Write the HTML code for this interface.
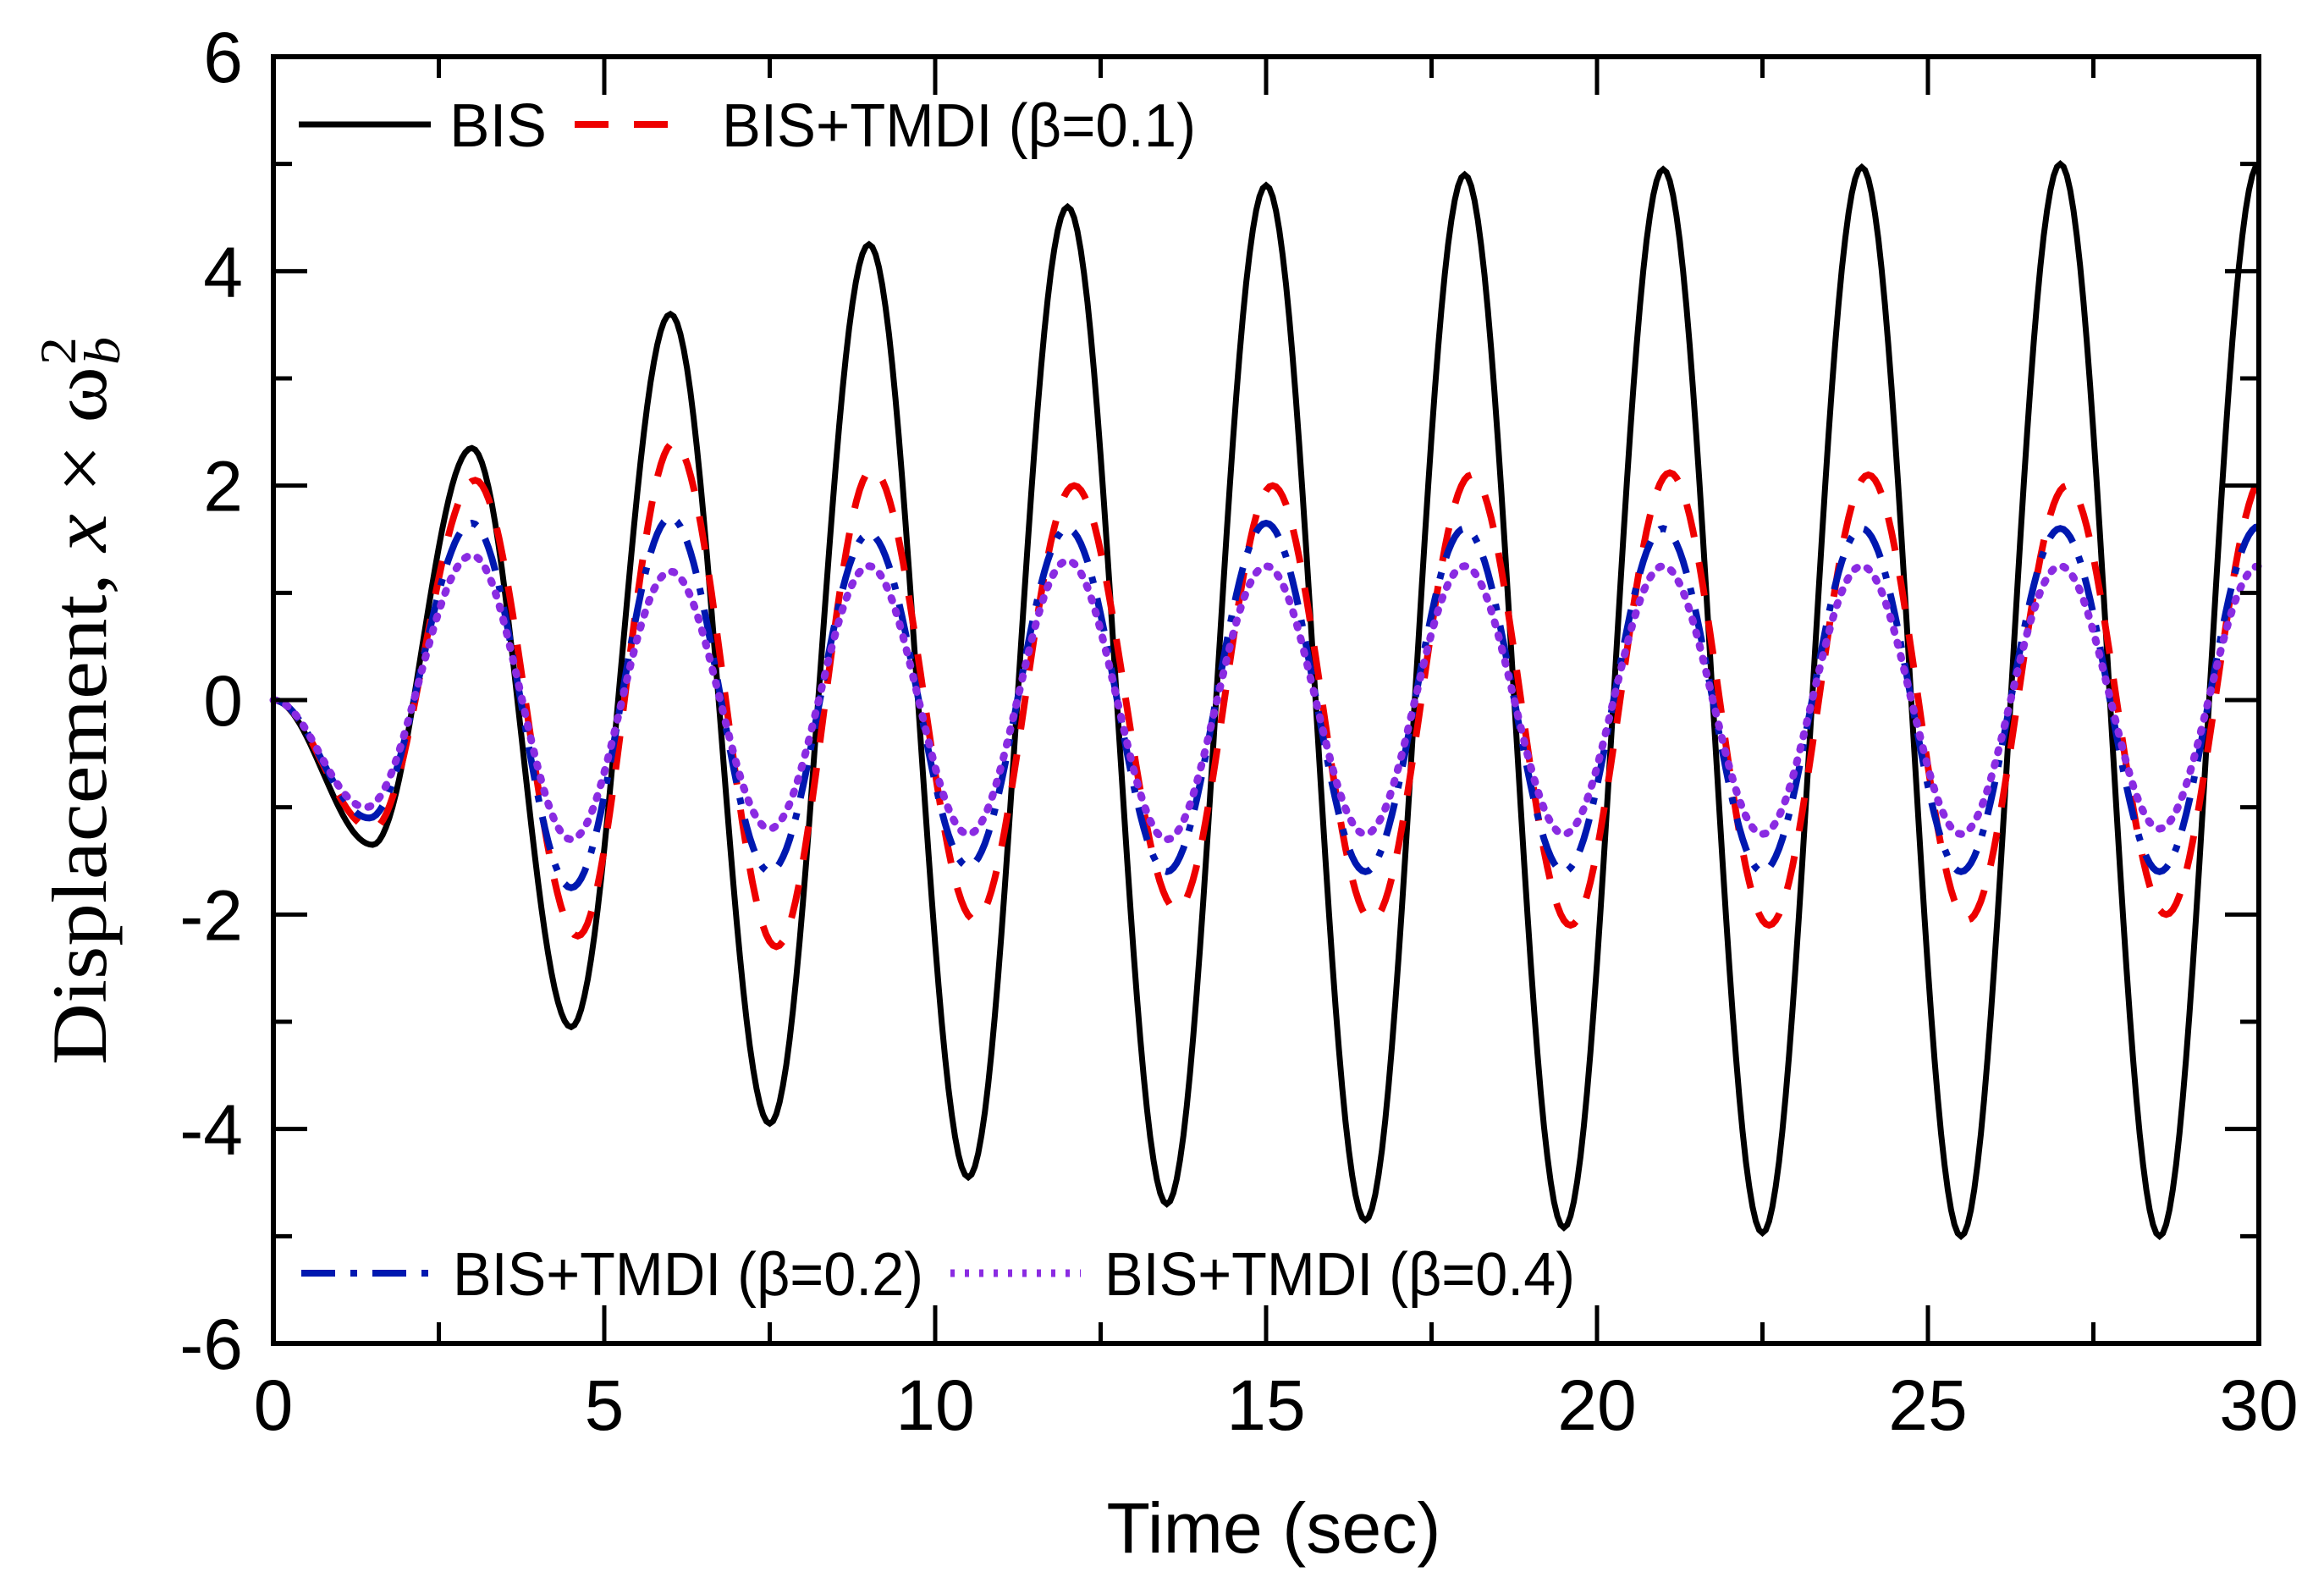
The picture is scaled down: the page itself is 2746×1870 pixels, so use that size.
<!DOCTYPE html>
<html><head><meta charset="utf-8"><style>
html,body{margin:0;padding:0;background:#fff;}
svg{display:block;}
.tk{font-family:"Liberation Sans",sans-serif;font-size:84px;fill:#000;}
.lg{font-family:"Liberation Sans",sans-serif;font-size:72px;fill:#000;}
</style></head><body>
<svg id="chart" width="2746" height="1870" viewBox="0 0 2746 1870" xmlns="http://www.w3.org/2000/svg">
<rect x="0" y="0" width="2746" height="1870" fill="#fff"/>
<g id="series"></g>
<g id="axes"></g>
<text class="tk" x="1505" y="1834" text-anchor="middle" textLength="395" lengthAdjust="spacingAndGlyphs">Time (sec)</text>
<text transform="translate(125,828) rotate(-90)" text-anchor="middle" font-family="Liberation Serif, serif" font-size="92" textLength="860" lengthAdjust="spacingAndGlyphs">Displacement, <tspan font-style="italic">x</tspan> × ω<tspan font-size="60" dy="-36" dx="2">2</tspan><tspan font-size="60" font-style="italic" dy="52" dx="-30">b</tspan></text>
<g>
<line x1="353" y1="147" x2="509" y2="147" stroke="#000" stroke-width="7"/>
<text class="lg" x="531" y="173" textLength="115" lengthAdjust="spacingAndGlyphs">BIS</text>
<line x1="679" y1="147" x2="800" y2="147" stroke="#e00" stroke-width="8" stroke-dasharray="40,30"/>
<text class="lg" x="853" y="173" textLength="560" lengthAdjust="spacingAndGlyphs">BIS+TMDI (β=0.1)</text>
</g>
<g>
<line x1="356" y1="1504" x2="509" y2="1504" stroke="#0018b0" stroke-width="8" stroke-dasharray="40,18,8,18"/>
<text class="lg" x="535" y="1530" textLength="556" lengthAdjust="spacingAndGlyphs">BIS+TMDI (β=0.2)</text>
<line x1="1123" y1="1504" x2="1277" y2="1504" stroke="#8a2be2" stroke-width="9" stroke-dasharray="5,12"/>
<text class="lg" x="1305" y="1530" textLength="556" lengthAdjust="spacingAndGlyphs">BIS+TMDI (β=0.4)</text>
</g>
</svg>
<script>
// extrema data (time, value) per series
const bisT = [0,1.5,3,4.5,6,7.5,9,10.5,12,13.5,15,16.5,18,19.5,21,22.5,24,25.5,27,28.5,30];
const bisV = [0,-1.35,2.35,-3.05,3.6,-3.95,4.25,-4.45,4.6,-4.7,4.8,-4.85,4.9,-4.92,4.95,-4.97,4.97,-5,5,-5,5];
const r1T = [0,1.5,3.05,4.6,6.05,7.6,9.05,10.6,12.1,13.65,15.1,16.6,18.1,19.6,21.1,22.6,24.1,25.6,27.1,28.6,30.1];
const r1V = [0,-1.2,2.05,-2.2,2.4,-2.3,2.15,-2.05,2.0,-1.95,2.0,-2.05,2.1,-2.1,2.12,-2.1,2.1,-2.05,2.0,-2.0,2.1];
const b2T = [0,1.45,3,4.5,6,7.5,9,10.5,12,13.5,15,16.5,18,19.5,21,22.5,24,25.5,27,28.5,30];
const b2V = [0,-1.1,1.65,-1.75,1.7,-1.6,1.55,-1.55,1.6,-1.6,1.65,-1.6,1.6,-1.6,1.6,-1.6,1.6,-1.6,1.6,-1.6,1.62];
const p4T = [0,1.4,3,4.5,6,7.5,9,10.5,12,13.5,15,16.5,18,19.5,21,22.5,24,25.5,27,28.5,30];
const p4V = [0,-1.0,1.35,-1.3,1.2,-1.2,1.25,-1.25,1.3,-1.3,1.25,-1.25,1.25,-1.25,1.25,-1.25,1.25,-1.25,1.25,-1.2,1.25];
const xTicks = [0,5,10,15,20,25,30];
const yTicks = [-6,-4,-2,0,2,4,6];

const L=323,R=2669,T=67,B=1587;
const sx=t=>L+(t/30)*(R-L);
const sy=v=>B-((v+6)/12)*(B-T);
const NS="http://www.w3.org/2000/svg";
const sG=document.getElementById('series'), aG=document.getElementById('axes');

function pathFrom(ts,vs){
  let d='';
  for(let i=0;i<ts.length-1;i++){
    const n=30;
    for(let k=(i?1:0);k<=n;k++){
      const f=k/n, t=ts[i]+(ts[i+1]-ts[i])*f;
      const w=(1-Math.cos(Math.PI*f))/2;
      const v=vs[i]+(vs[i+1]-vs[i])*w;
      const tt=Math.min(t,30);
      d+=(d?'L':'M')+sx(tt).toFixed(1)+','+sy(v).toFixed(1);
      if(t>=30) return d;
    }
  }
  return d;
}
function addSeries(ts,vs,color,dash,w,name,cap){
  const p=document.createElementNS(NS,'path');
  p.setAttribute('d',pathFrom(ts,vs));
  p.setAttribute('fill','none');
  p.setAttribute('stroke',color);
  p.setAttribute('stroke-width',w);
  if(dash)p.setAttribute('stroke-dasharray',dash);
  if(cap)p.setAttribute('stroke-linecap',cap);
  
  
  sG.appendChild(p);
}
addSeries(bisT,bisV,'#000','',7,'series-bis');
addSeries(r1T,r1V,'#e00','40,30',8,'series-beta-0-1');
addSeries(b2T,b2V,'#0018b0','40,18,8,18',8,'series-beta-0-2');
addSeries(p4T,p4V,'#8a2be2','3,13',9,'series-beta-0-4','round');

function line(x1,y1,x2,y2,w,name){
  const l=document.createElementNS(NS,'line');
  l.setAttribute('x1',x1);l.setAttribute('y1',y1);l.setAttribute('x2',x2);l.setAttribute('y2',y2);
  l.setAttribute('stroke','#000');l.setAttribute('stroke-width',w);
  
  
  aG.appendChild(l);
}
function txt(x,y,s,anchor,name){
  const t=document.createElementNS(NS,'text');
  t.setAttribute('x',x);t.setAttribute('y',y);t.setAttribute('class','tk');
  t.setAttribute('text-anchor',anchor);
  t.textContent=s;
  
  
  aG.appendChild(t);
}
for(let t=0;t<=30;t+=2.5){
  const maj=(t%5===0), len=maj?45:25;
  line(sx(t),B,sx(t),B-len,5,'x-tick');
  line(sx(t),T,sx(t),T+len,5,'x-tick-top');
}
for(let v=-6;v<=6;v+=1){
  const maj=(v%2===0), len=maj?40:22;
  line(L,sy(v),L+len,sy(v),5,'y-tick');
  line(R,sy(v),R-len,sy(v),5,'y-tick-right');
}
xTicks.forEach(t=>txt(sx(t),1689,String(t),'middle','x-tick-label'));
yTicks.forEach(v=>txt(287,sy(v)+30,String(v),'end','y-tick-label'));
const fr=document.createElementNS(NS,'rect');
fr.setAttribute('x',L);fr.setAttribute('y',T);fr.setAttribute('width',R-L);fr.setAttribute('height',B-T);
fr.setAttribute('fill','none');fr.setAttribute('stroke','#000');fr.setAttribute('stroke-width',6);


aG.appendChild(fr);
</script>
</body></html>
